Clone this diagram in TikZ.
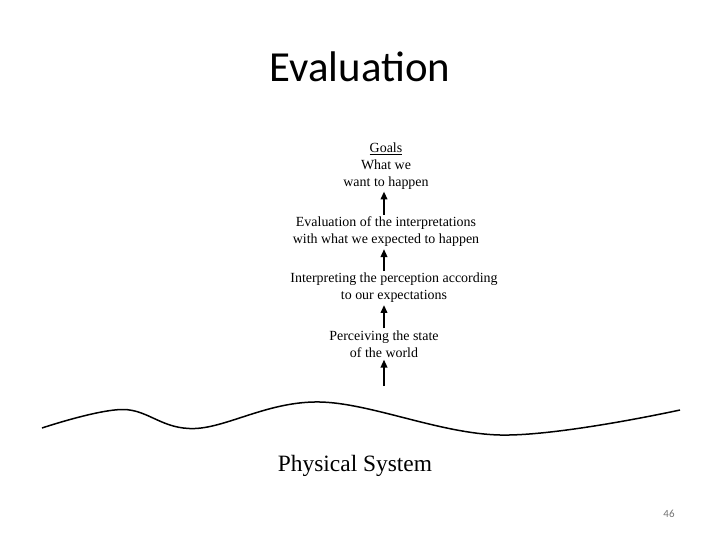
\documentclass[tikz,border=0pt]{standalone}
\usepackage{fontspec}
\setmainfont{Liberation Serif}
\newfontfamily\slidefont{Carlito}
\usepackage{tikz}
\usetikzlibrary{arrows.meta, positioning, calc}

\begin{document}
\begin{tikzpicture}[
        x=1bp, y=-1bp,
        every node/.style={inner sep=2bp, align=center, font=\fontsize{14}{17}\selectfont},
        uparrow/.style={line width=2.6bp, -{Triangle[width=6.5bp, length=8bp]}},
        wave/.style={line width=1.5bp}
    ]
        \useasboundingbox (0,0) rectangle (720,540);

        \node (title) [font=\slidefont\fontsize{43}{50}\selectfont] at (360,67) {Evaluation};

        \node (goals) at (386,166) {\underline{Goals}\\What we\\want to happen};
        \node (evalint) at (386,232) {Evaluation of the interpretations\\with what we expected to happen};
        \node (interp) at (394,288) {Interpreting the perception according\\to our expectations};
        \node (perceive) at (384,344) {Perceiving the state\\of the world};
        \coordinate (ground) at (384,386);

        \draw [wave] plot[smooth, tension=0.6] coordinates {(42,428) (123,409.5) (195,428.5) (320,402) (500,435) (680,410)};

        \node (physical) [font=\fontsize{23.5}{28}\selectfont] at (355,466) {Physical System};
        \node (pagenum) [font=\slidefont\fontsize{11}{13}\selectfont, text=black!55] at (669,514) {46};

        \draw [uparrow] (evalint.north -| ground) -- (goals.south -| ground);
        \draw [uparrow] (interp.north -| ground) -- (evalint.south -| ground);
        \draw [uparrow] (perceive.north -| ground) -- (interp.south -| ground);
        \draw [uparrow] (ground) -- (perceive.south -| ground);
    \end{tikzpicture}
\end{document}
